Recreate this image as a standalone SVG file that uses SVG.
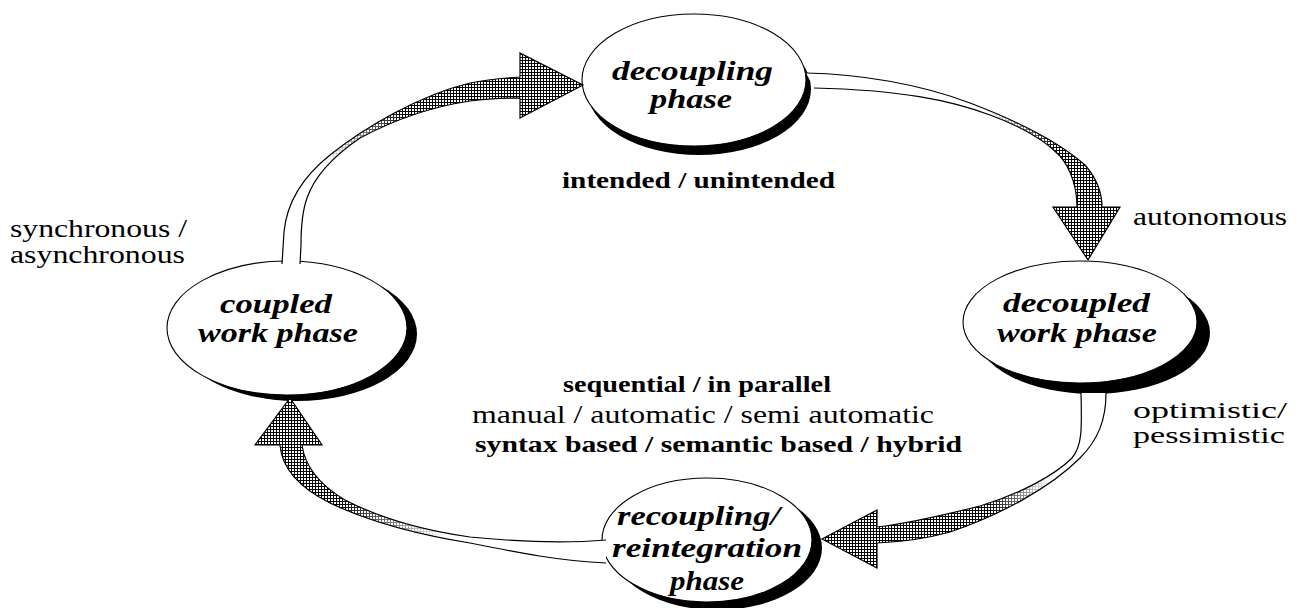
<svg xmlns="http://www.w3.org/2000/svg" xmlns:xlink="http://www.w3.org/1999/xlink" width="1299" height="608" viewBox="0 0 1299 608">
<style>
.shadow{fill:#000;stroke:none}
.node{fill:#fff;stroke:#000;stroke-width:1.1}
.nt{font-family:"Liberation Serif","Times New Roman",serif;font-weight:bold;font-style:italic;font-size:27px;fill:#000}
.lb{font-family:"Liberation Serif","Times New Roman",serif;font-size:25px;fill:#000}
.b{font-weight:bold;font-size:24px}
.sm{font-size:23px}
.abase{fill:#fff;stroke:none}
.ahatch{fill:url(#hatch);stroke:none}
.aline{fill:none;stroke:#000;stroke-width:1.2;stroke-linejoin:miter}
</style>
<defs>
<pattern id="hatch" width="3" height="3" patternUnits="userSpaceOnUse"><rect width="3" height="3" fill="#000"/><rect x="1" y="1" width="2" height="2" fill="#fff"/></pattern>
<linearGradient id="g1" gradientUnits="userSpaceOnUse" x1="325" y1="165" x2="405" y2="110"><stop offset="0" stop-color="#000"/><stop offset="1" stop-color="#fff"/></linearGradient>
<linearGradient id="g2" gradientUnits="userSpaceOnUse" x1="985" y1="108" x2="1060" y2="150"><stop offset="0" stop-color="#000"/><stop offset="1" stop-color="#fff"/></linearGradient>
<linearGradient id="g3" gradientUnits="userSpaceOnUse" x1="1050" y1="480" x2="990" y2="515"><stop offset="0" stop-color="#000"/><stop offset="1" stop-color="#fff"/></linearGradient>
<linearGradient id="g4" gradientUnits="userSpaceOnUse" x1="445" y1="538" x2="340" y2="500"><stop offset="0" stop-color="#000"/><stop offset="1" stop-color="#fff"/></linearGradient>
<mask id="m1" maskUnits="userSpaceOnUse" x="0" y="0" width="1299" height="608"><rect width="1299" height="608" fill="url(#g1)"/></mask>
<mask id="m2" maskUnits="userSpaceOnUse" x="0" y="0" width="1299" height="608"><rect width="1299" height="608" fill="url(#g2)"/></mask>
<mask id="m3" maskUnits="userSpaceOnUse" x="0" y="0" width="1299" height="608"><rect width="1299" height="608" fill="url(#g3)"/></mask>
<mask id="m4" maskUnits="userSpaceOnUse" x="0" y="0" width="1299" height="608"><rect width="1299" height="608" fill="url(#g4)"/></mask>
<path id="a1" d="M282,264 L284,232 C287,200 305,175 330,155 C365,127 420,95 470,83 C490,79 505,78 520,77 L520,53 L583,85 L520,118 L520,98 C500,98 485,99 470,101 C430,107 390,122 360,138 C335,155 315,175 307,198 C302,212 301,225 301,245 L300,264"/>
<path id="a2" d="M806,73 C860,74 920,84 970,103 C1020,122 1060,143 1085,165 C1098,180 1102,195 1102,207 L1120,207 L1088,260 L1053,207 L1077,207 C1077,190 1072,170 1060,156 C1045,140 1020,126 990,115 C950,100 900,90 814,88"/>
<path id="a3" d="M1106,393 C1106,420 1098,440 1080,458 C1050,488 1000,515 950,532 C925,539 900,542 877,543 L877,568 L822,539 L877,510 L877,527 C905,524 940,516 980,506 C1020,494 1055,475 1072,458 C1082,446 1082,430 1081,393"/>
<path id="a4" d="M606,563 C560,561 520,553 470,543 C420,535 370,522 330,503 C300,488 282,470 280,445 L255,445 L290,398 L322,445 L302,445 C305,468 320,485 345,500 C380,518 420,530 470,537 C520,542 570,543 606,540"/>
</defs>
<rect width="1299" height="608" fill="#fff"/>

<g id="node-decoupling">
<ellipse class="shadow" cx="699" cy="89" rx="112" ry="66"/>
<ellipse class="node" cx="694" cy="80" rx="112" ry="66"/>
<text class="nt" x="612" y="80" textLength="161" lengthAdjust="spacingAndGlyphs">decoupling</text>
<text class="nt" x="650" y="108" textLength="82" lengthAdjust="spacingAndGlyphs">phase</text>
</g>

<g id="node-decoupled">
<ellipse class="shadow" cx="1093" cy="333" rx="117" ry="61"/>
<ellipse class="node" cx="1080" cy="322" rx="117" ry="61"/>
<text class="nt" x="1003" y="312" textLength="147" lengthAdjust="spacingAndGlyphs">decoupled</text>
<text class="nt" x="997" y="342" textLength="160" lengthAdjust="spacingAndGlyphs">work phase</text>
</g>

<g id="node-coupled">
<ellipse class="shadow" cx="297" cy="334" rx="120" ry="67"/>
<ellipse class="node" cx="287" cy="328" rx="120" ry="67"/>
<text class="nt" x="220" y="313" textLength="112" lengthAdjust="spacingAndGlyphs">coupled</text>
<text class="nt" x="198" y="342" textLength="160" lengthAdjust="spacingAndGlyphs">work phase</text>
</g>

<g id="node-recoupling">
<ellipse class="shadow" cx="717" cy="548" rx="105" ry="62"/>
<ellipse class="node" cx="707" cy="540" rx="105" ry="62"/>
<text class="nt" x="617" y="525" textLength="163" lengthAdjust="spacingAndGlyphs">recoupling/</text>
<text class="nt" x="612" y="557" textLength="190" lengthAdjust="spacingAndGlyphs">reintegration</text>
<text class="nt" x="670" y="590" textLength="74" lengthAdjust="spacingAndGlyphs">phase</text>
</g>

<g id="connectors">
<g id="arrow-coupled-decoupling">
<use xlink:href="#a1" class="abase"/>
<use xlink:href="#a1" class="ahatch" mask="url(#m1)"/>
<use xlink:href="#a1" class="aline"/>
</g>
<g id="arrow-decoupling-decoupled">
<use xlink:href="#a2" class="abase"/>
<use xlink:href="#a2" class="ahatch" mask="url(#m2)"/>
<use xlink:href="#a2" class="aline"/>
</g>
<g id="arrow-decoupled-recoupling">
<use xlink:href="#a3" class="abase"/>
<use xlink:href="#a3" class="ahatch" mask="url(#m3)"/>
<use xlink:href="#a3" class="aline"/>
</g>
<g id="arrow-recoupling-coupled">
<use xlink:href="#a4" class="abase"/>
<use xlink:href="#a4" class="ahatch" mask="url(#m4)"/>
<use xlink:href="#a4" class="aline"/>
</g>
</g>

<g id="labels">
<text class="lb b" x="562" y="188" textLength="273" lengthAdjust="spacingAndGlyphs">intended / unintended</text>
<text class="lb" x="1133" y="225" textLength="154" lengthAdjust="spacingAndGlyphs">autonomous</text>
<text class="lb" x="10" y="237" textLength="177" lengthAdjust="spacingAndGlyphs">synchronous /</text>
<text class="lb" x="10" y="263" textLength="175" lengthAdjust="spacingAndGlyphs">asynchronous</text>
<text class="lb sm" x="1133" y="418" textLength="154" lengthAdjust="spacingAndGlyphs">optimistic/</text>
<text class="lb sm" x="1133" y="443" textLength="152" lengthAdjust="spacingAndGlyphs">pessimistic</text>
<text class="lb b" x="563" y="392" textLength="268" lengthAdjust="spacingAndGlyphs">sequential / in parallel</text>
<text class="lb" x="472" y="423" textLength="462" lengthAdjust="spacingAndGlyphs">manual / automatic / semi automatic</text>
<text class="lb b" x="475" y="452" textLength="487" lengthAdjust="spacingAndGlyphs">syntax based / semantic based / hybrid</text>
</g>
</svg>
